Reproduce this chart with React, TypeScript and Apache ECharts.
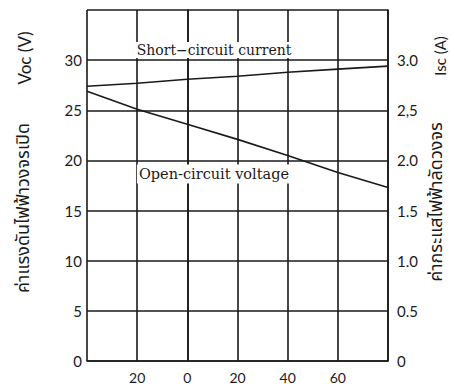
import React, { useEffect, useRef } from "react";
import * as echarts from "echarts";

const temperatures = [-40, -20, 0, 20, 40, 60, 80];
const vocValues = [26.9, 25.1, 23.6, 22.1, 20.5, 18.8, 17.3];
const iscValues = [2.74, 2.77, 2.81, 2.84, 2.88, 2.91, 2.94];

const xTickLabels: Record<string, string> = { "-40": "", "-20": "20", "0": "0", "20": "20", "40": "40", "60": "60", "80": "" };
const leftTickLabels: Record<string, string> = { "0": "0", "5": "5", "10": "10", "15": "15", "20": "20", "25": "25", "30": "30", "35": "" };
const rightTickLabels: Record<string, string> = { "0": "0", "0.5": "0.5", "1": "1.0", "1.5": "1.5", "2": "2.0", "2.5": "2,5", "3": "3.0", "3.5": "" };

const leftName = "Voc (V)";
const leftThai = "ค่าแรงดันไฟฟ้าวงจรเปิด";
const rightName = "Isc (A)";
const rightThai = "ค่ากระแสไฟฟ้าลัดวงจร";
const iscLabel = "Short\u2212circuit current";
const vocLabel = "Open-circuit voltage";

export default function App() {
  const ref = useRef<HTMLDivElement>(null);
  useEffect(() => {
    if (!ref.current) return;
    const chart = echarts.init(ref.current, undefined, { renderer: "svg" });
    const lineStyle = { color: "#1a1a1a", width: 1.6 };
    const tickFont = { color: "#1a1a1a", fontSize: 15, fontFamily: "Lato, 'Open Sans', sans-serif" };
    const thaiFont = "'Noto Sans Thai', 'Noto Sans', 'DejaVu Sans', sans-serif";
    chart.setOption({
      animation: false,
      backgroundColor: "#ffffff",
      grid: { left: 87, right: 63, top: 10, bottom: 23, containLabel: false },
      xAxis: {
        type: "value",
        min: -40,
        max: 80,
        interval: 20,
        axisLine: { show: true, lineStyle },
        axisTick: { show: false },
        axisLabel: { ...tickFont, fontSize: 14, margin: 9, formatter: (v: number) => xTickLabels[String(v)] ?? "" },
        splitLine: { show: true, lineStyle },
      },
      yAxis: [
        {
          type: "value",
          min: 0,
          max: 35,
          interval: 5,
          position: "left",
          axisLine: { show: true, lineStyle },
          axisTick: { show: false },
          axisLabel: { ...tickFont, margin: 5, formatter: (v: number) => leftTickLabels[String(v)] ?? "" },
          splitLine: { show: true, lineStyle },
        },
        {
          type: "value",
          min: 0,
          max: 3.5,
          interval: 0.5,
          position: "right",
          axisLine: { show: true, lineStyle },
          axisTick: { show: false },
          axisLabel: { ...tickFont, margin: 9, formatter: (v: number) => rightTickLabels[String(v)] ?? "" },
          splitLine: { show: false },
        },
      ],
      series: [
        {
          name: "Open-circuit voltage",
          type: "line",
          yAxisIndex: 0,
          showSymbol: false,
          lineStyle: { color: "#1a1a1a", width: 1.6 },
          data: temperatures.map((t, i) => [t, vocValues[i]]),
          z: 3,
        },
        {
          name: "Short-circuit current",
          type: "line",
          yAxisIndex: 1,
          showSymbol: false,
          lineStyle: { color: "#1a1a1a", width: 1.6 },
          data: temperatures.map((t, i) => [t, iscValues[i]]),
          z: 3,
        },
      ],
      graphic: [
        {
          type: "text",
          x: 214,
          y: 50,
          z: 10,
          style: {
            text: iscLabel,
            fill: "#1a1a1a",
            font: "14px 'DejaVu Serif', serif",
            align: "center",
            verticalAlign: "middle",
            backgroundColor: "#ffffff",
            padding: [1, 2],
          },
        },
        {
          type: "text",
          x: 214,
          y: 174,
          z: 10,
          style: {
            text: vocLabel,
            fill: "#1a1a1a",
            font: "14.5px 'DejaVu Serif', serif",
            align: "center",
            verticalAlign: "middle",
            backgroundColor: "#ffffff",
            padding: [2, 2],
          },
        },
        {
          type: "text",
          x: 24,
          y: 58,
          rotation: Math.PI / 2,
          style: { text: leftName, fill: "#1a1a1a", font: "17px Lato, sans-serif", align: "center", verticalAlign: "middle" },
        },
        {
          type: "text",
          x: 23,
          y: 208,
          rotation: Math.PI / 2,
          style: { text: leftThai, fill: "#1a1a1a", font: `18px ${thaiFont}`, align: "center", verticalAlign: "middle" },
        },
        {
          type: "text",
          x: 440,
          y: 56,
          rotation: Math.PI / 2,
          style: { text: rightName, fill: "#1a1a1a", font: "15px Lato, sans-serif", align: "center", verticalAlign: "middle" },
        },
        {
          type: "text",
          x: 436,
          y: 202,
          rotation: Math.PI / 2,
          style: { text: rightThai, fill: "#1a1a1a", font: `18px ${thaiFont}`, align: "center", verticalAlign: "middle" },
        },
      ],
    });
    return () => chart.dispose();
  }, []);
  return <div ref={ref} style={{ width: 451, height: 384, position: "absolute", left: 0, top: 0 }} />;
}
